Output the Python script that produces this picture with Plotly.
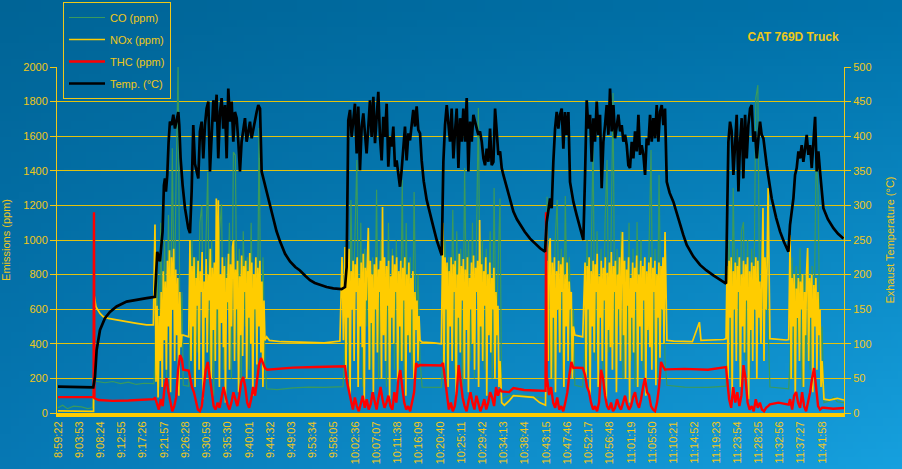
import zlib, struct, base64
import numpy as np
import plotly.graph_objects as go

# ---------------- data ----------------
tick_labels = ["8:59:22", "9:03:53", "9:08:24", "9:12:55", "9:17:26", "9:21:57", "9:26:28",
               "9:30:59", "9:35:30", "9:40:01", "9:44:32", "9:49:03", "9:53:34", "9:58:05",
               "10:02:36", "10:07:07", "10:11:38", "10:16:09", "10:20:40", "10:25:11", "10:29:42",
               "10:34:13", "10:38:44", "10:43:15", "10:47:46", "10:52:17", "10:56:48", "11:01:19",
               "11:05:50", "11:10:21", "11:14:52", "11:19:23", "11:23:54", "11:28:25", "11:32:56",
               "11:37:27", "11:41:58"]
tick_step_s = 271          # seconds between labelled rows
x_end_s = 10036            # last logged second

# haul cycles (start s, end s) in which the engine is under load
burst_windows = [(1239, 1583), (1686, 2643), (3665, 4623), (4916, 5644),
                 (6245, 6581), (6730, 7751), (8543, 9067), (9348, 9756)]

# Exhaust temperature (°C): (seconds, value)
temp_pts = [(0,38),(451,37),(473,52),(494,91),(537,120),(600,137),(664,146),(749,154),(877,161),(1005,164),
    (1133,166),(1239,168),(1251,199),(1268,233),(1302,219),(1324,248),(1336,262),(1353,329),(1366,339),(1379,320),
    (1396,344),(1413,392),(1430,421),(1451,416),(1473,431),(1494,411),(1515,426),(1537,435),(1549,416),(1566,368),
    (1592,329),(1622,296),(1664,267),(1686,260),(1707,320),
    (1728,416),(1749,360),(1771,350),(1792,339),(1813,407),(1835,421),(1856,368),(1877,416),(1898,440),(1920,450),
    (1941,349),(1962,402),(1984,452),(2005,421),(2026,460),(2047,368),(2069,435),(2090,455),(2111,411),(2133,445),
    (2154,368),(2175,469),(2196,421),(2218,450),(2239,392),(2260,435),(2282,426),(2303,392),(2324,349),(2345,392),
    (2367,411),(2388,426),(2409,392),(2431,407),(2452,421),(2473,397),(2494,411),(2516,426),(2537,435),(2558,445),
    (2580,440),(2601,349),(2630,335),(2665,318),(2700,302),(2750,281),(2790,263),(2835,248),(2900,230),(2963,219),
    (3030,211),(3090,206),(3160,198),(3218,192),(3280,188),(3345,185),(3430,182),(3516,180),
    (3622,179),(3665,182),(3686,211),
    (3707,423),(3729,438),(3750,399),(3771,423),(3792,447),(3814,375),(3835,443),(3856,351),(3878,414),(3899,433),
    (3920,399),(3941,375),(3963,414),(3984,452),(4005,399),(4027,457),(4048,390),(4069,428),(4090,464),(4112,399),
    (4133,365),(4154,428),(4176,399),(4197,447),(4218,356),(4239,399),(4261,385),(4282,414),(4303,356),(4324,365),
    (4346,341),(4367,327),(4388,351),(4410,390),(4431,414),(4452,365),(4474,404),(4495,394),(4516,414),(4537,438),
    (4559,414),(4580,443),(4601,409),(4623,404),(4644,365),(4670,335),(4708,308),(4750,287),(4793,269),(4836,250),
    (4878,236),(4900,228),
    (4921,363),(4942,416),(4964,445),(4985,416),(5006,392),(5027,440),(5049,368),(5070,407),(5091,440),(5113,354),
    (5134,426),(5155,392),(5176,440),(5198,392),(5219,455),(5240,349),(5262,421),(5283,392),(5304,431),(5325,421),
    (5347,411),(5368,402),(5389,407),(5411,392),(5432,368),(5453,358),(5474,382),(5496,363),(5517,411),(5538,358),
    (5560,363),(5581,440),(5602,407),(5623,373),(5645,378),(5666,354),(5687,344),(5730,325),(5770,307),(5815,291),
    (5860,280),(5900,272),(5960,262),(6028,252),(6090,245),(6156,238),(6219,233),
    (6240,276),(6283,310),(6304,296),(6325,363),(6347,411),(6368,435),(6389,411),(6410,431),(6432,440),(6453,382),
    (6474,435),(6496,402),(6517,435),(6538,334),(6560,318),(6581,305),(6623,286),(6666,267),(6708,250),(6730,344),(6751,452),
    (6772,411),(6794,431),(6815,363),(6836,426),(6857,392),(6879,450),(6900,402),(6921,431),(6942,325),(6964,392),
    (6985,416),(7006,445),(7028,402),(7049,469),(7070,407),(7092,445),(7113,397),(7134,416),(7155,431),(7177,407),
    (7198,416),(7219,392),(7241,402),(7262,387),(7283,358),(7304,354),(7326,392),(7347,368),(7368,407),(7390,378),
    (7411,431),(7432,373),(7453,387),(7475,373),(7496,344),(7517,397),(7538,387),(7560,431),(7581,392),(7602,426),
    (7624,397),(7645,445),(7666,392),(7687,435),(7709,445),(7730,416),(7751,440),(7773,334),(7810,318),(7858,305),
    (7900,288),(7943,272),(7985,257),(8028,243),(8070,234),(8113,226),(8198,214),(8280,206),
    (8368,199),(8450,193),(8530,187),(8547,305),(8560,392),(8581,421),(8602,407),(8624,344),(8645,392),(8666,431),(8688,320),
    (8709,392),(8730,426),(8751,339),(8773,431),(8794,368),(8815,416),(8837,440),(8858,445),(8879,392),(8900,407),
    (8922,368),(8943,397),(8964,421),(8985,402),(9007,397),(9049,358),(9080,333),(9113,310),(9170,282),(9220,262),
    (9270,247),(9326,233),(9347,272),
    (9390,310),(9411,344),(9432,354),(9454,378),(9475,368),(9496,387),(9517,363),(9539,382),(9560,402),(9581,373),
    (9603,387),(9624,354),(9645,392),(9667,428),(9688,349),(9709,378),(9730,349),(9773,296),(9830,280),(9901,267),
    (9960,259),(10029,252)]

# NOx (ppm): idle stretches as (seconds, value), load cycles as sample values
nox_idle = [
    [(0,12),(440,12),(455,10),(464,676),(485,615),(537,576),(579,557),(643,547),(749,537),(877,528),(1005,518),(1133,509),(1218,509)],
    [(1600,450),(1670,440)],
    [(2665,440),(2700,420),(2850,412),(3100,410),(3400,405),(3600,416),(3627,902),(3645,420)],
    [(4650,410),(4800,405),(4895,400)],
    [(5665,60),(5700,45),(5760,70),(5815,100),(5950,95),(6070,90),(6150,60),(6225,45)],
    [(6600,450),(6700,440)],
    [(7775,420),(7860,415),(8100,412),(8190,525),(8210,420),(8500,425),(8530,430)],
    [(9090,430),(9300,422),(9330,425)],
    [(9780,80),(9850,75),(9950,85),(10036,75)],
]
nox_b1a = [1090,180,620,90,560,300,700,150,820,420,760,250,880,500,940,120,900,600,950,300,
           830,450,780,100,700,380,450]
nox_b1b = [1000,300,850,500,900,150,780,620,880,250,820,700,930,80,760,550,890,350,800,650,
           950,200,840,480,870,300,1240,600,1230,150,800,520,900,380,850,60,780,640,920,250,
           860,500,960,1000,300,830,600,880,120,790,450,910,330,850,700,880,200,820,550,925,
           400,870,100,800,600,900,280,840,500,880,350,760,150,650,420]
nox_b2 = [960,200,900,550,950,100,820,600,880,300,860,700,900,150,780,500,870,380,920,60,
          840,650,900,1070,250,880,520,800,120,860,600,900,350,830,700,880,200,1190,450,900,
          300,850,620,880,80,790,550,910,400,860,700,900,180,820,500,880,300,840,650,900,
          100,800,450,870,350,780,600,820,200,700,480,650,300,560,420]
nox_b3 = [1100,250,900,600,870,150,820,500,900,300,860,700,880,80,800,550,920,350,850,650,
          890,200,830,480,900,120,780,600,870,400,910,250,840,700,880,150,1115,500,860,300,
          820,620,900,100,800,450,870,350,780,600,840,200,700,450,620,150,300]
nox_b4a = [880,300,950,1010,200,870,550,900,120,820,600,880,350,860,700,900,150,800,500,870,
           300,760,600,700,200,500]
nox_b4b = [870,200,850,600,900,100,820,500,880,350,860,700,920,150,790,550,880,300,840,650,
           900,80,810,480,870,380,930,250,850,700,880,120,800,600,900,300,860,1046,450,880,
           200,830,620,900,60,780,550,870,350,840,700,910,150,800,500,880,300,850,650,900,
           100,820,480,870,380,900,250,840,700,880,160,800,550,870,320,850,600,900,400,1046]
nox_b5a = [850,200,880,550,900,100,820,600,870,300,850,700,900,150,800,500,880,350,860,650,
           900,80,820,480,870,300,850,600,900,200,880,550,760,400,950,1185,300,900,600,850,1300]
nox_b5b = [1029,200,780,500,800,100,720,550,780,300,760,600,800,150,700,450,820,954,300,780,
           550,800,120,740,500,780,250,700,450,600,150,300]

# CO (ppm)
co_idle = [
    [(0,30),(60,45),(120,25),(200,40),(300,35),(380,25),(440,30),(462,185),(600,175),(700,182),(800,170),(900,178),(1000,165),(1100,172),(1225,170)],
    [(1600,160),(1670,155)],
    [(2665,140),(2800,135),(3000,145),(3200,150),(3400,148),(3640,152)],
    [(4650,150),(4895,148)],
    [(5665,80),(5760,100),(5900,105),(6050,95),(6230,85)],
    [(6600,160),(6700,150)],
    [(7775,160),(8000,150),(8300,148),(8530,155)],
    [(9090,150),(9330,140)],
    [(9780,60),(9850,70),(9900,90),(9950,65),(10036,60)],
]
co_b1a = [300,900,150,1100,400,1000,200,1145,300,1530,600,1376,2000,400,700]
co_b1b = [500,1000,200,900,350,1100,1200,150,950,1393,300,1000,100,850,400,1050,1208,250,900,600,
          1100,200,1508,1490,300,950,150,1050,500,900,250,1100,350,800,200,1647,400,900,300]
co_b2 = [400,900,200,1231,600,1000,1462,300,1100,150,950,500,1050,250,900,400,1290,200,1000,600,
         850,150,1100,350,950,250,1000,500,300,1347,200,1098,400,900,250,1277,500,800,300]
co_b3 = [300,1000,200,900,500,1175,250,1050,400,950,150,1416,600,1000,300,1100,200,900,1763,400,
         1000,250,950,500,1050,200,1300,400,800,1240]
co_b4a = [1250,300,900,200,1000,1231,400,950,150,1254,500,900,250,600]
co_b4b = [400,1000,200,900,1549,300,1050,500,950,200,1100,1462,350,1000,1850,250,950,500,1050,200,
          900,400,1100,300,950,150,1104,600,1000,250,900,400,1050,1520,300,950,200,1376,500,800,300]
co_b5a = [300,1000,200,1300,500,950,250,1050,1104,300,1000,200,950,500,1820,1896,400,1000,300,900,500]
co_b5b = [300,900,200,850,400,954,150,800,300,900,250,850,500,1474,1277,300,500]

# THC (ppm)
thc_idle = [
    [(0,92),(455,92),(460,1160),(466,85),(520,75),(700,70),(900,72),(1100,75),(1225,80)],
    [(1600,250),(1670,245)],
    [(2670,250),(2800,255),(3000,262),(3300,266),(3600,268),(3645,270)],
    [(4650,277),(4895,275)],
    [(5665,125),(5760,121),(5815,144),(5870,140),(5950,133),(6100,130),(6225,128),(6232,1160),(6240,150)],
    [(6600,262),(6700,260)],
    [(7775,252),(8000,255),(8300,250),(8500,260),(8530,265)],
    [(9090,50),(9200,60),(9330,48)],
    [(9780,30),(9900,25),(10036,29)],
]
thc_b1a = [90,60,20,80,40,150,202,120,60,10,40,90,250,335,310]
thc_b1b = [200,150,120,60,20,10,40,150,250,295,200,100,40,20,60,30,90,150,100,50,
           20,60,120,80,40,100,180,208,150,60,30,80,150,100,200,280,318,290,260]
thc_b2 = [270,180,120,60,20,90,40,10,60,100,30,80,20,50,120,60,20,90,150,80,
          30,60,100,40,20,120,60,190,248,150,60,20,40,10,60,120,289,270,277]
thc_b3 = [290,200,80,20,60,10,40,120,277,180,90,40,10,70,120,60,20,100,50,10,
          40,80,20,60,120,90,40,150,100,140]
thc_b4a = [200,104,150,60,30,90,20,40,10,60,120,220,295,260]
thc_b4b = [220,150,121,60,20,40,10,60,250,200,100,40,20,60,10,30,80,40,20,60,
           100,50,20,40,90,120,60,30,80,150,202,120,104,40,20,10,60,150,295,270,250]
thc_b5a = [200,80,30,150,60,120,40,100,277,200,60,20,40,10,80,30,60,20,10,30,40]
thc_b5b = [80,20,100,121,60,30,120,40,10,60,120,200,260,150,40,20,30]

nox_bursts = [nox_b1a, nox_b1b, nox_b2, nox_b3, nox_b4a, nox_b4b, nox_b5a, nox_b5b]
co_bursts = [co_b1a, co_b1b, co_b2, co_b3, co_b4a, co_b4b, co_b5a, co_b5b]
thc_bursts = [thc_b1a, thc_b1b, thc_b2, thc_b3, thc_b4a, thc_b4b, thc_b5a, thc_b5b]


def build(idle, bursts):
    t, v = [], []
    for i, seg in enumerate(idle):
        for a, b in seg:
            t.append(a)
            v.append(b)
        if i < len(bursts):
            s, e = burst_windows[i]
            vals = bursts[i]
            t.extend(np.linspace(s, e, len(vals)).tolist())
            v.extend(vals)
    return t, v


co_t, co_v = build(co_idle, co_bursts)
nox_t, nox_v = build(nox_idle, nox_bursts)
thc_t, thc_v = build(thc_idle, thc_bursts)
temp_t = [p[0] for p in temp_pts]
temp_v = [p[1] for p in temp_pts]

# ---------------- background gradient image ----------------
def gradient_png(w, h, tl, tr, bl, br):
    raw = bytearray()
    for j in range(h):
        fy = j / (h - 1)
        raw.append(0)
        for i in range(w):
            fx = i / (w - 1)
            for k in range(3):
                top = tl[k] + (tr[k] - tl[k]) * fx
                bot = bl[k] + (br[k] - bl[k]) * fx
                raw.append(int(round(top + (bot - top) * fy)))

    def chunk(tag, data):
        return (struct.pack('>I', len(data)) + tag + data +
                struct.pack('>I', zlib.crc32(tag + data) & 0xffffffff))
    png = (b'\x89PNG\r\n\x1a\n' +
           chunk(b'IHDR', struct.pack('>IIBBBBB', w, h, 8, 2, 0, 0, 0)) +
           chunk(b'IDAT', zlib.compress(bytes(raw), 9)) +
           chunk(b'IEND', b''))
    return 'data:image/png;base64,' + base64.b64encode(png).decode()


bg_src = gradient_png(120, 60, (0, 100, 150), (0, 114, 170), (6, 120, 180), (22, 160, 222))

# ---------------- figure ----------------
YEL = '#f0c818'
GRID = '#e2c20e'
W, H = 902, 469
L, R, T, B = 57, 58, 67, 56
PW, PH = W - L - R, H - T - B

fig = go.Figure()
fig.add_trace(go.Scatter(x=co_t, y=co_v, name='CO (ppm)', mode='lines',
                         line=dict(color='#3a9a5c', width=1.2), legendgroup='a'))
fig.add_trace(go.Scatter(x=nox_t, y=nox_v, name='NOx (ppm)', mode='lines',
                         line=dict(color='#ffcc00', width=1.7), legendgroup='b'))
fig.add_trace(go.Scatter(x=thc_t, y=thc_v, name='THC (ppm)', mode='lines',
                         line=dict(color='#ff0000', width=2.4), legendgroup='c'))
fig.add_trace(go.Scatter(x=temp_t, y=temp_v, name='Temp. (°C)', mode='lines', yaxis='y2',
                         line=dict(color='#000000', width=2.7), legendgroup='d'))

fig.update_layout(
    width=W, height=H,
    margin=dict(l=L, r=R, t=T, b=B, autoexpand=False),
    paper_bgcolor='#0a7ab2',
    plot_bgcolor='rgba(0,0,0,0)',
    font=dict(family='Liberation Sans, Arial, sans-serif', size=11, color=YEL),
    title=dict(text='<b>CAT 769D Truck</b>', x=793 / W, y=1 - 37 / H, xanchor='center',
               yanchor='middle', font=dict(size=12, color=YEL)),
    images=[dict(source=bg_src, xref='paper', yref='paper', x=-L / PW, y=1 + T / PH,
                 sizex=W / PW, sizey=H / PH, sizing='stretch', layer='below',
                 xanchor='left', yanchor='top')],
    showlegend=True,
    legend=dict(x=(63 - L) / PW, y=1 + (T - 2) / PH, xanchor='left', yanchor='top',
                bordercolor=YEL, borderwidth=1, bgcolor='rgba(0,0,0,0)',
                font=dict(size=11, color=YEL), traceorder='grouped', tracegroupgap=3,
                itemwidth=36),
    xaxis=dict(range=[-12, x_end_s], tickmode='array',
               tickvals=[i * tick_step_s for i in range(len(tick_labels))],
               ticktext=tick_labels, tickangle=-90, showgrid=False, zeroline=False,
               showline=True, linecolor='#ffcc00', linewidth=4, ticks='',
               tickfont=dict(size=11, color=YEL), automargin=False),
    yaxis=dict(range=[0, 2000], dtick=200, showgrid=True, gridcolor=GRID, gridwidth=1,
               zeroline=False, showline=True, linecolor=YEL, linewidth=1, ticks='outside',
               ticklen=6, tickcolor=YEL, tickfont=dict(size=11, color=YEL),
               title=dict(text='Emissions (ppm)', font=dict(size=11, color=YEL)),
               automargin=False),
    yaxis2=dict(range=[0, 500], dtick=50, overlaying='y', side='right', showgrid=False,
                zeroline=False, showline=True, linecolor=YEL, linewidth=1, ticks='outside',
                ticklen=6, tickcolor=YEL, tickfont=dict(size=11, color=YEL),
                title=dict(text='Exhaust Temperature (°C)', font=dict(size=11, color=YEL)),
                automargin=False),
)

fig.write_html('out.html', config={'displayModeBar': False},
               post_script="document.body.style.margin='0';document.body.style.overflow='hidden';")
